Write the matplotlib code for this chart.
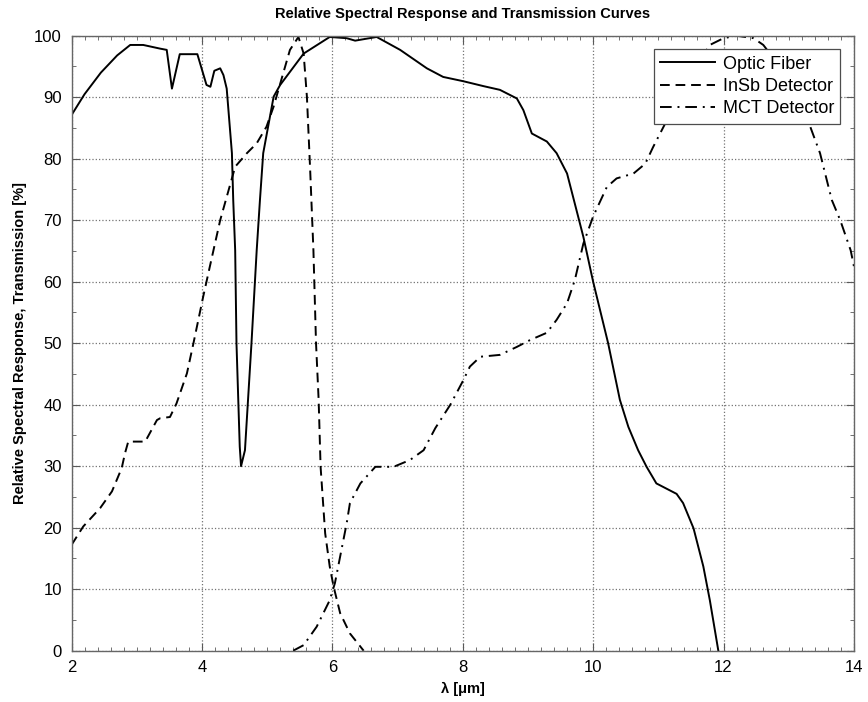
import numpy as np
import matplotlib
matplotlib.use("Agg")
import matplotlib.pyplot as plt
from matplotlib.ticker import MultipleLocator

plt.rcParams['font.family'] = ['Liberation Sans', 'DejaVu Sans']

# optic fiber transmission
fiber_x = [2.0, 2.2, 2.45, 2.7, 2.9, 3.1, 3.36, 3.46, 3.54, 3.66, 3.93, 4.07,
           4.13, 4.19, 4.28, 4.33, 4.38, 4.46, 4.48, 4.51, 4.53, 4.58, 4.60,
           4.66, 4.76, 4.84, 4.89, 4.94, 5.10, 5.20, 5.56, 5.96, 6.22, 6.35,
           6.68, 7.04, 7.45, 7.70, 8.01, 8.32, 8.57, 8.83, 8.93, 9.06, 9.29,
           9.44, 9.60, 9.77, 9.85, 10.0, 10.23, 10.41, 10.54, 10.69, 10.82,
           10.97, 11.28, 11.38, 11.54, 11.69, 11.79, 11.92]
fiber_y = [87.1, 90.5, 94.0, 96.8, 98.5, 98.5, 97.9, 97.7, 91.4, 97.0, 97.0, 92.0,
           91.7, 94.3, 94.7, 93.6, 91.4, 80.9, 73.3, 65.1, 50.0, 33.2, 30.0,
           32.6, 50.0, 65.1, 73.3, 80.9, 90.1, 92.0, 97.1, 99.8, 99.6, 99.2,
           99.8, 97.7, 94.7, 93.3, 92.6, 91.8, 91.2, 89.8, 87.9, 84.1, 82.8,
           80.9, 77.6, 70.6, 67.3, 60.0, 50.0, 40.8, 36.4, 32.6, 29.9,
           27.2, 25.5, 24.0, 19.9, 13.7, 8.2, 0.0]

# InSb detector response
insb_x = [2.0, 2.18, 2.44, 2.62, 2.77, 2.82, 2.87, 3.13, 3.31, 3.36, 3.51, 3.61,
          3.77, 3.87, 4.02, 4.12, 4.28, 4.51, 4.69, 4.84, 4.99, 5.10, 5.35,
          5.48, 5.56, 5.61, 5.66, 5.71, 5.75, 5.79, 5.82, 5.89, 5.96, 6.02,
          6.12, 6.27, 6.48]
insb_y = [17.2, 20.2, 23.2, 25.9, 29.7, 32.1, 34.0, 34.0, 37.5, 37.8, 38.0, 40.2,
          45.1, 50.0, 57.6, 62.4, 70.0, 78.7, 80.9, 82.5, 85.2, 88.5, 97.7,
          99.8, 97.1, 90.1, 78.2, 65.1, 50.0, 40.8, 29.9, 19.1, 13.7, 10.4,
          6.1, 2.8, 0.0]

# MCT detector response
mct_x = [5.40, 5.56, 5.76, 5.96, 6.04, 6.14, 6.22, 6.27, 6.43, 6.66, 6.94, 7.19,
         7.40, 7.58, 7.81, 8.01, 8.11, 8.27, 8.57, 8.83, 9.03, 9.29, 9.44,
         9.60, 9.72, 9.85, 10.0, 10.21, 10.36, 10.62, 10.80, 10.92, 11.08,
         11.4, 11.79, 12.0, 12.2, 12.46, 12.61, 12.9, 13.33, 13.48, 13.66,
         13.79, 13.95, 14.0]
mct_y = [0.0, 0.9, 3.9, 8.2, 11.0, 16.4, 20.7, 24.0, 27.2, 29.9, 29.9, 31.0,
         32.6, 36.2, 40.0, 44.0, 46.2, 47.8, 48.1, 49.4, 50.5, 51.7, 53.8,
         56.5, 60.3, 66.2, 70.6, 75.4, 76.8, 77.6, 79.2, 81.9, 85.2,
         92.0, 98.5, 99.6, 100.0, 99.6, 98.5, 94.5, 85.2, 80.9, 73.3,
         70.0, 65.1, 62.5]

fig = plt.figure(figsize=(8.68, 7.02), dpi=100)
ax = fig.add_axes([0.0824, 0.0731, 0.9014, 0.876])

ax.plot(fiber_x, fiber_y, color='black', linewidth=1.4, linestyle='-', label='Optic Fiber')
ax.plot(insb_x, insb_y, color='black', linewidth=1.4, linestyle=(0, (5, 3)), label='InSb Detector')
ax.plot(mct_x, mct_y, color='black', linewidth=1.4, linestyle=(0, (6, 3, 1, 3)), label='MCT Detector')

ax.set_xlim(2, 14)
ax.set_ylim(0, 100)
ax.xaxis.set_major_locator(MultipleLocator(2))
ax.xaxis.set_minor_locator(MultipleLocator(0.2))
ax.yaxis.set_major_locator(MultipleLocator(10))
ax.yaxis.set_minor_locator(MultipleLocator(5))
ax.tick_params(which='both', direction='in', top=True, right=True, color='0.35')
ax.tick_params(which='major', length=6, labelsize=12, pad=7)
ax.tick_params(which='minor', length=3)
for s in ax.spines.values():
    s.set_color('0.4')
    s.set_linewidth(1.0)

ax.grid(True, which='major', linestyle=':', color='0.45', linewidth=0.9)

ax.set_title("Relative Spectral Response and Transmission Curves",
             fontsize=10.5, fontweight='bold', pad=13)
ax.set_xlabel("λ [μm]", fontsize=10.5, fontweight='bold', labelpad=5)
ax.set_ylabel("Relative Spectral Response, Transmission [%]", fontsize=10.5,
              fontweight='bold', labelpad=5)

leg = ax.legend(loc='upper right', fontsize=13, fancybox=False, framealpha=1,
                borderaxespad=0.75, handlelength=3.0, handletextpad=0.45,
                borderpad=0.35, labelspacing=0.3)
leg.get_frame().set_edgecolor('0.3')
leg.get_frame().set_linewidth(0.9)

fig.savefig("out.png", dpi=100)
